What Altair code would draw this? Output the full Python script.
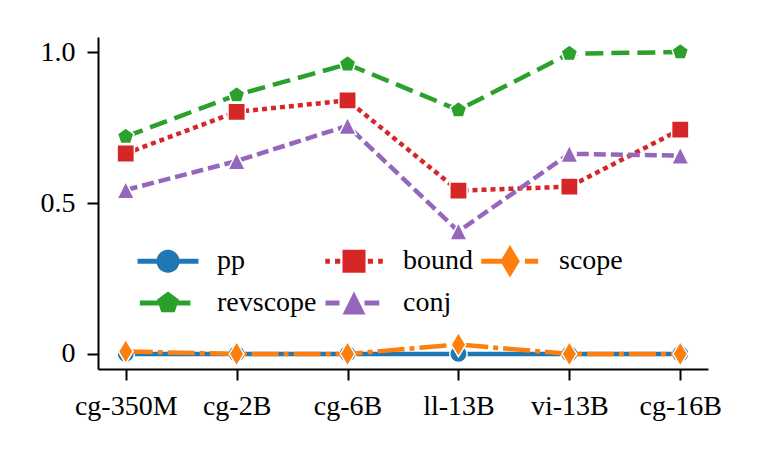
import altair as alt
import pandas as pd

# ---- data ----
models = ["cg-350M", "cg-2B", "cg-6B", "ll-13B", "vi-13B", "cg-16B"]
pp = [0.0, 0.0, 0.0, 0.0, 0.0, 0.0]
revscope = [0.720, 0.858, 0.960, 0.808, 0.995, 1.000]
bound = [0.664, 0.802, 0.840, 0.541, 0.554, 0.743]
conj = [0.543, 0.639, 0.756, 0.406, 0.663, 0.657]
scope = [0.008, 0.0, 0.0, 0.031, 0.0, 0.0]

series_values = {"pp": pp, "revscope": revscope, "bound": bound, "conj": conj, "scope": scope}
draw_order = ["pp", "revscope", "bound", "conj", "scope"]
legend_order = ["pp", "revscope", "bound", "conj", "scope"]

# ---- styles ----
colors = {"pp": "#1f77b4", "revscope": "#2ca02c", "bound": "#d62728",
          "conj": "#9467bd", "scope": "#ff7f0e"}
dashes = {"pp": [1, 0], "revscope": [18, 8], "bound": [5, 4],
          "conj": [12, 5], "scope": [27, 5, 5, 5]}

CIRCLE = "M-1,0A1,1,0,1,1,1,0A1,1,0,1,1,-1,0Z"
SQUARE = "M-1,-1H1V1H-1Z"
TRIANGLE = "M0,-1L1,1L-1,1Z"
PENTAGON = "M0,-1L0.951,-0.309L0.588,0.809L-0.588,0.809L-0.951,-0.309Z"
DIAMOND = "M0,-1.414L0.849,0L0,1.414L-0.849,0Z"
markers = {"pp": CIRCLE, "revscope": PENTAGON, "bound": SQUARE,
           "conj": TRIANGLE, "scope": DIAMOND}

T = 0.22
def seg(a, b):
    return f"M{a},-{T}H{b}V{T}H{a}Z"

FRAME = "M-2.7,-1.42M2.7,1.42"
legend_paths = {
    "pp": seg(-2.65, 2.65) + CIRCLE,
    "bound": seg(-2.5, -2.1) + seg(-1.65, -1.2) + seg(1.2, 1.65) + seg(2.1, 2.5) + SQUARE,
    "scope": seg(-2.5, -0.5) + seg(1.3, 2.45) + DIAMOND,
    "revscope": seg(-2.45, -0.8) + seg(0.8, 1.95) + PENTAGON,
    "conj": seg(-2.48, -1.26) + seg(0.91, 2.2) + TRIANGLE,
}

rows = []
for s in draw_order:
    for m, v in zip(models, series_values[s]):
        rows.append({"model": m, "series": s, "value": v})
df = pd.DataFrame(rows)

X = alt.X("model:N", sort=models, scale=alt.Scale(domain=models, padding=0.25),
          axis=alt.Axis(title=None, labelAngle=0))
Y = alt.Y("value:Q", scale=alt.Scale(domain=[-0.05, 1.05], nice=False, zero=False),
          axis=alt.Axis(title=None, values=[0, 0.5, 1.0],
                        labelExpr="datum.value == 0 ? '0' : format(datum.value, '.1f')"))

layers = []
for s in draw_order:
    base = alt.Chart(df).transform_filter(alt.datum.series == s)
    layers.append(base.mark_line(color=colors[s], strokeWidth=4.5,
                                 strokeDash=dashes[s], strokeCap="butt").encode(x=X, y=Y))
    layers.append(base.mark_point(filled=True, shape=markers[s], size=300,
                                  fill=colors[s], stroke="white", strokeWidth=1.5,
                                  opacity=1).encode(x=X, y=Y))

leg = alt.Legend(title=None, orient="none", legendX=56, legendY=210, columns=3,
                 columnPadding=5, rowPadding=8, padding=0,
                 labelFont="Liberation Serif", labelFontSize=28, labelColor="black",
                 symbolSize=529, symbolStrokeWidth=0, symbolOpacity=1,
                 symbolOffset=0, labelOffset=35)
legend_layer = alt.Chart(df).transform_filter("false").mark_point(filled=True).encode(
    x=X, y=Y,
    color=alt.Color("series:N", scale=alt.Scale(domain=legend_order,
                    range=[colors[s] for s in legend_order]), legend=leg),
    shape=alt.Shape("series:N", scale=alt.Scale(domain=legend_order,
                    range=[FRAME + legend_paths[s] for s in legend_order]), legend=leg),
)
layers.append(legend_layer)

chart = alt.layer(*layers).properties(
    width=610, height=332, autosize="none",
    padding={"left": 90, "top": 29, "right": 45, "bottom": 80},
    background="white",
).configure_view(stroke=None).configure_axis(
    grid=False, domainColor="black", domainWidth=2, tickColor="black", tickWidth=2,
    tickSize=11, labelFont="Liberation Serif", labelFontSize=28, labelColor="black",
    labelPadding=12,
)

chart.save("out.html", embed_options={"renderer": "svg", "actions": False})
